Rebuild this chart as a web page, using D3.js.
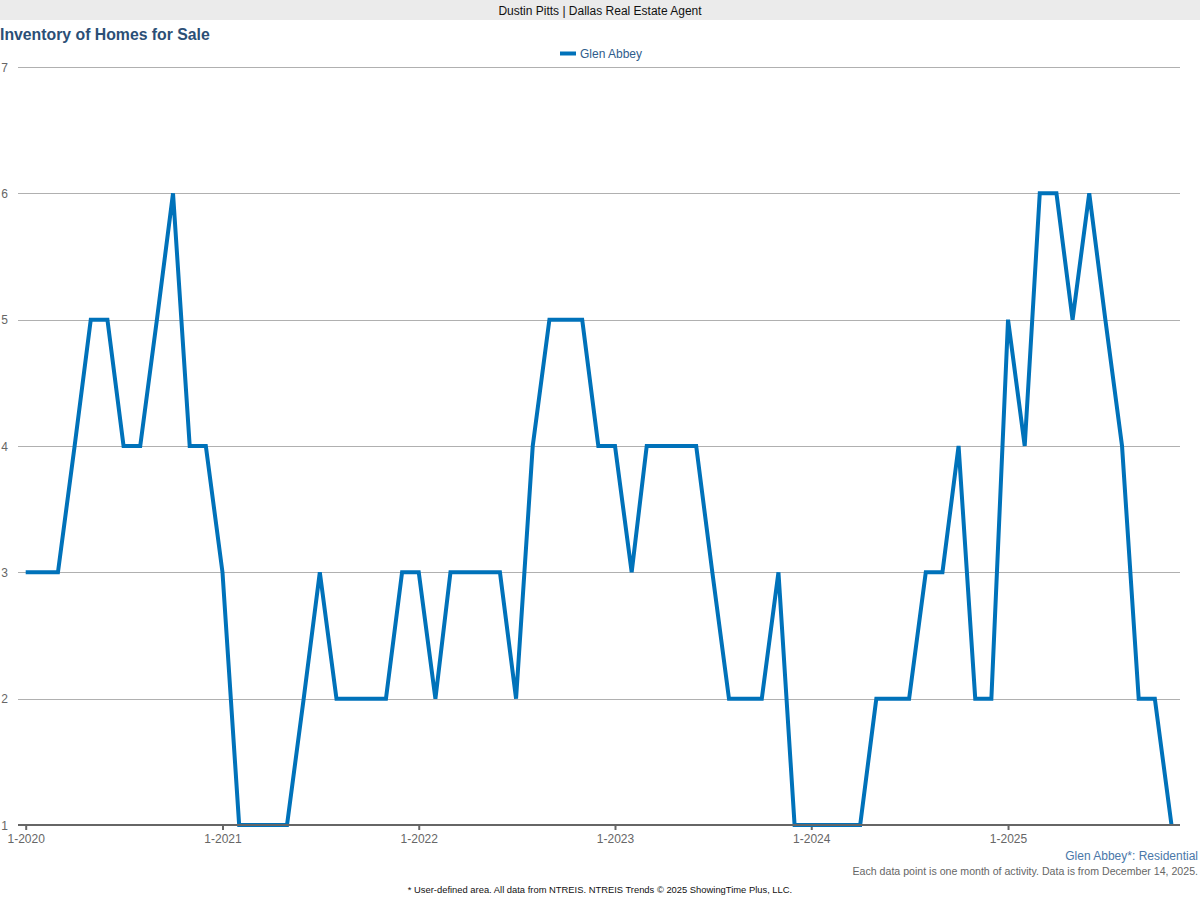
<!DOCTYPE html>
<html>
<head>
<meta charset="utf-8">
<script src="https://cdn.jsdelivr.net/npm/d3@7"></script>
<style>
  html, body { margin: 0; padding: 0; background: #fff; }
  svg { display: block; font-family: "Liberation Sans", Arial, sans-serif; }
</style>
</head>
<body>
<svg id="chart" width="1200" height="900"></svg>
<script>
// ---- Data ----
const seriesName = "Glen Abbey";
const startYear = 2020;
const startMonth = 0; // January
const values = [
  3, 3, 3, 4, 5, 5, 4, 4, 5, 6, 4, 4,   // 2020
  3, 1, 1, 1, 1, 2, 3, 2, 2, 2, 2, 3,   // 2021
  3, 2, 3, 3, 3, 3, 2, 4, 5, 5, 5, 4,   // 2022
  4, 3, 4, 4, 4, 4, 3, 2, 2, 2, 3, 1,   // 2023
  1, 1, 1, 1, 2, 2, 2, 3, 3, 4, 2, 2,   // 2024
  5, 4, 6, 6, 5, 6, 5, 4, 2, 2, 1       // 2025 (Jan-Nov)
];
const yTicks = [1, 2, 3, 4, 5, 6, 7];
const xTickYears = [2020, 2021, 2022, 2023, 2024, 2025];

const data = values.map((v, i) => ({ date: new Date(startYear, startMonth + i, 1), value: v }));

// ---- Layout ----
const svg = d3.select("#chart");
const W = 1200;
const plotLeft = 25.7, plotRight = 1171.5;
const axisLineLeft = 18, axisLineRight = 1180;
const plotTop = 67, plotBottom = 825;

const x = d3.scaleTime()
  .domain([data[0].date, data[data.length - 1].date])
  .range([plotLeft, plotRight]);
const y = d3.scaleLinear().domain([1, 7]).range([plotBottom, plotTop]);

// header band
svg.append("rect").attr("x", 0).attr("y", 0).attr("width", W).attr("height", 20).attr("fill", "#ebebeb");
svg.append("text").attr("x", 600).attr("y", 15).attr("text-anchor", "middle")
  .attr("font-size", 12).attr("fill", "#111").text("Dustin Pitts | Dallas Real Estate Agent");

// title
svg.append("text").attr("x", 0).attr("y", 40).attr("font-size", 15.8).attr("font-weight", "bold")
  .attr("fill", "#2b4f76").text("Inventory of Homes for Sale");

// legend
svg.append("line").attr("x1", 560).attr("x2", 576).attr("y1", 53.5).attr("y2", 53.5)
  .attr("stroke", "#0072ba").attr("stroke-width", 4);
svg.append("text").attr("x", 580).attr("y", 58).attr("font-size", 12).attr("fill", "#2f5d8c").text(seriesName);

// gridlines
const grid = svg.append("g");
yTicks.filter(t => t !== 1).forEach(t => {
  grid.append("line").attr("x1", axisLineLeft).attr("x2", axisLineRight)
    .attr("y1", Math.round(y(t)) + 0.5).attr("y2", Math.round(y(t)) + 0.5)
    .attr("stroke", "#b0b0b0").attr("stroke-width", 1);
});

// y labels
yTicks.forEach(t => {
  svg.append("text").attr("x", 8).attr("y", y(t) + 4.5).attr("text-anchor", "end")
    .attr("font-size", 12).attr("fill", "#666").text(t);
});

// x axis
const xAxis = d3.axisBottom(x)
  .tickValues(xTickYears.map(yr => new Date(yr, 0, 1)))
  .tickFormat(d => "1-" + d.getFullYear())
  .tickSize(5).tickPadding(4);
const gx = svg.append("g").attr("transform", `translate(0,${plotBottom})`).call(xAxis);
gx.select(".domain").remove();
gx.selectAll(".tick line").attr("stroke", "#666").attr("stroke-width", 2);
gx.selectAll(".tick text").attr("font-size", 12).attr("fill", "#666")
  .attr("font-family", '"Liberation Sans", Arial, sans-serif');

// line
const line = d3.line().x(d => x(d.date)).y(d => y(d.value));
svg.append("path").datum(data).attr("d", line)
  .attr("fill", "none").attr("stroke", "#0072ba").attr("stroke-width", 4)
  .attr("stroke-linejoin", "miter").attr("stroke-miterlimit", 2);

// baseline axis
svg.append("line").attr("x1", axisLineLeft).attr("x2", axisLineRight)
  .attr("y1", plotBottom).attr("y2", plotBottom).attr("stroke", "#666").attr("stroke-width", 2);

// bottom notes
svg.append("text").attr("x", 1198).attr("y", 860).attr("text-anchor", "end")
  .attr("font-size", 12).attr("fill", "#4a77a8").text("Glen Abbey*: Residential");
svg.append("text").attr("x", 1198).attr("y", 875).attr("text-anchor", "end")
  .attr("font-size", 10.6).attr("fill", "#666").text("Each data point is one month of activity. Data is from December 14, 2025.");
svg.append("text").attr("x", 600).attr("y", 893).attr("text-anchor", "middle")
  .attr("font-size", 9.4).attr("fill", "#111")
  .attr("font-family", '"Liberation Sans Narrow", "Arial Narrow", "Liberation Sans", sans-serif')
  .text("* User-defined area. All data from NTREIS. NTREIS Trends © 2025 ShowingTime Plus, LLC.");
</script>
</body>
</html>
